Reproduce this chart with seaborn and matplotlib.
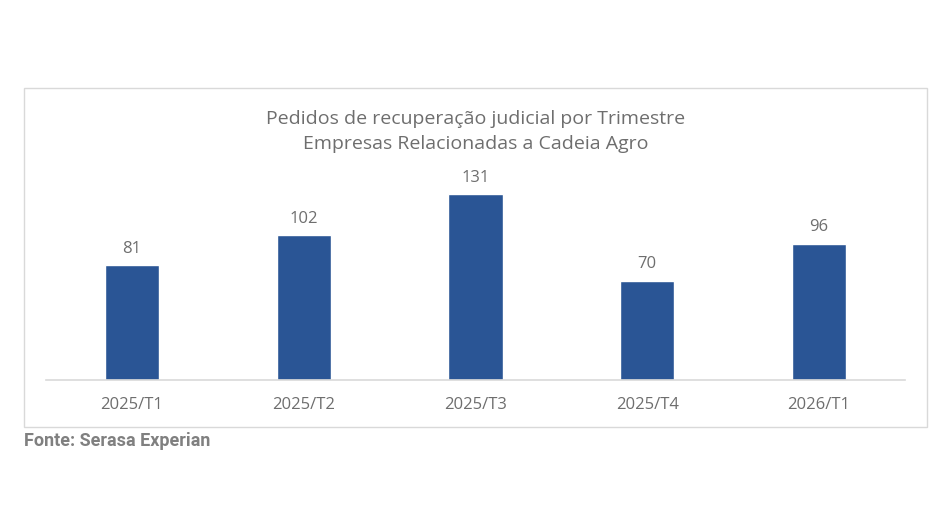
import matplotlib
matplotlib.use('Agg')
import matplotlib.pyplot as plt
from matplotlib.patches import Rectangle
import seaborn as sns
import pandas as pd

# data
trimestres = ['2025/T1', '2025/T2', '2025/T3', '2025/T4', '2026/T1']
pedidos = [81, 102, 131, 70, 96]

titulo = 'Pedidos de recuperação judicial por Trimestre\nEmpresas Relacionadas a Cadeia Agro'
fonte = 'Fonte: Serasa Experian'

azul = '#2A5595'
cinza_txt = '#6E6E6E'
cinza_linha = '#D9D9D9'

sns.set_theme(style='white')
plt.rcParams['font.family'] = ['Open Sans', 'DejaVu Sans']

df = pd.DataFrame({'trimestre': trimestres, 'pedidos': pedidos})

fig = plt.figure(figsize=(9.4, 5.3), dpi=100)
fig.patch.set_facecolor('white')

# chart frame
fig.patches.append(Rectangle((0.0255, 0.1943), 0.9606, 0.6396, transform=fig.transFigure,
                             fill=False, edgecolor=cinza_linha, linewidth=1.0))

ax = fig.add_axes([0.0489, 0.283, 0.9138, 0.4019])
sns.barplot(data=df, x='trimestre', y='pedidos', color=azul, width=0.315,
            saturation=1, ax=ax)
ax.set_xlim(-0.5, 4.5)
ax.set_ylim(0, 150)

for c in ax.containers:
    ax.bar_label(c, padding=6, fontsize=12, color=cinza_txt)

for s in ['top', 'right', 'left']:
    ax.spines[s].set_visible(False)
ax.spines['bottom'].set_color(cinza_linha)
ax.spines['bottom'].set_linewidth(1.2)
ax.set_yticks([])
ax.set_xlabel('')
ax.set_ylabel('')
ax.tick_params(axis='x', length=0, pad=12, labelsize=12, labelcolor=cinza_txt)
ax.set_facecolor('none')

fig.text(0.506, 0.751, titulo, ha='center', va='center', fontsize=14,
         color=cinza_txt, linespacing=1.5)

fig.text(0.0255, 0.168, fonte, ha='left', va='center', fontsize=13,
         fontweight='bold', color='#808080', family=['Roboto', 'DejaVu Sans'])

fig.savefig('out.png', dpi=100, facecolor='white')
